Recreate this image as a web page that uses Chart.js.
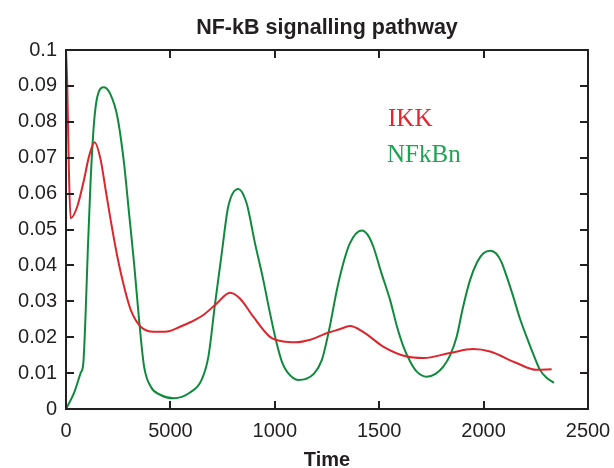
<!DOCTYPE html>
<html>
<head>
<meta charset="utf-8">
<script src="https://cdn.jsdelivr.net/npm/chart.js@4.4.1/dist/chart.umd.min.js"></script>
<style>
  html, body { margin: 0; padding: 0; background: #fff; }
  #wrap { width: 614px; height: 468px; }
</style>
</head>
<body>
<div id="wrap"><canvas id="chart" width="614" height="468"></canvas></div>
<script>
// IKK curve (time, value)
const ikkTime = [0, 6, 14, 22, 54, 86, 110, 137, 166, 190, 214, 246, 278, 310, 358, 421, 485, 546, 600, 658, 722, 785, 833, 897, 977, 1040, 1100, 1170, 1248, 1310, 1360, 1423, 1519, 1632, 1711, 1839, 1950, 2031, 2158, 2254, 2326];
const ikkValues = [0.1, 0.09, 0.066, 0.0531, 0.0564, 0.0638, 0.0703, 0.0743, 0.0694, 0.061, 0.0526, 0.0424, 0.0341, 0.0276, 0.0229, 0.0215, 0.0216, 0.0229, 0.0243, 0.0262, 0.0294, 0.0324, 0.0308, 0.0257, 0.0201, 0.0188, 0.0186, 0.0193, 0.0211, 0.0222, 0.0231, 0.0215, 0.0174, 0.0146, 0.0142, 0.0156, 0.0167, 0.0160, 0.0128, 0.0109, 0.0111];

// NFkBn curve
const nfkbTime = [0, 38, 70, 83, 94, 105, 118, 134, 150, 182, 214, 246, 278, 302, 326, 350, 374, 406, 453, 514, 594, 650, 682, 714, 746, 777, 825, 865, 905, 945, 977, 1009, 1035, 1060, 1113, 1150, 1185, 1225, 1260, 1297, 1330, 1360, 1416, 1445, 1472, 1510, 1552, 1585, 1616, 1650, 1680, 1727, 1770, 1807, 1840, 1871, 1900, 1935, 1970, 1999, 2034, 2060, 2085, 2110, 2142, 2175, 2206, 2240, 2270, 2300, 2337];
const nfkbValues = [0, 0.0044, 0.010, 0.0128, 0.0267, 0.0452, 0.0638, 0.0796, 0.0870, 0.0896, 0.0875, 0.0814, 0.0684, 0.0545, 0.0406, 0.0248, 0.0118, 0.0062, 0.0039, 0.0030, 0.0046, 0.0082, 0.0146, 0.0294, 0.0434, 0.0564, 0.0613, 0.0573, 0.0462, 0.0359, 0.0267, 0.0183, 0.013, 0.0103, 0.0081, 0.0084, 0.0097, 0.0136, 0.022, 0.0331, 0.041, 0.0462, 0.0497, 0.0485, 0.0452, 0.038, 0.0304, 0.023, 0.0174, 0.013, 0.0104, 0.0090, 0.0098, 0.0118, 0.015, 0.0201, 0.028, 0.0359, 0.041, 0.0434, 0.0441, 0.0433, 0.0410, 0.0370, 0.0313, 0.025, 0.0201, 0.015, 0.0109, 0.0088, 0.0073];

const xTickValues = [0, 500, 1000, 1500, 2000, 2500];
const xTickLabels = ['0', '5000', '1000', '1500', '2000', '2500'];
const yTickValues = [0, 0.01, 0.02, 0.03, 0.04, 0.05, 0.06, 0.07, 0.08, 0.09, 0.1];
const yTickLabels = ['0', '0.01', '0.02', '0.03', '0.04', '0.05', '0.06', '0.07', '0.08', '0.09', '0.1'];

const seriesNames = ['IKK', 'NFkBn'];
const chartTitle = 'NF-kB signalling pathway';

const toPoints = (xs, ys) => xs.map((x, i) => ({ x: x, y: ys[i] }));

// box + inward ticks + title over the plot + in-plot labels
const framePlugin = {
  id: 'frame',
  afterDraw(chart) {
    const ctx = chart.ctx;
    const a = chart.chartArea;
    const xs = chart.scales.x;
    const ys = chart.scales.y;
    const len = 8;
    ctx.save();
    ctx.strokeStyle = '#231f20';
    ctx.lineWidth = 2;
    ctx.strokeRect(a.left, a.top, a.right - a.left, a.bottom - a.top);
    ctx.beginPath();
    xTickValues.slice(1, -1).forEach(v => {
      const px = Math.round(xs.getPixelForValue(v));
      ctx.moveTo(px, a.bottom); ctx.lineTo(px, a.bottom - len);
      ctx.moveTo(px, a.top); ctx.lineTo(px, a.top + len);
    });
    yTickValues.slice(1, -1).forEach(v => {
      const py = Math.round(ys.getPixelForValue(v));
      ctx.moveTo(a.left, py); ctx.lineTo(a.left + len, py);
      ctx.moveTo(a.right, py); ctx.lineTo(a.right - len, py);
    });
    ctx.stroke();

    ctx.fillStyle = '#231f20';
    ctx.font = 'bold 21.5px "Liberation Sans", Arial, sans-serif';
    ctx.textAlign = 'center';
    ctx.textBaseline = 'middle';
    ctx.fillText(chartTitle, (a.left + a.right) / 2, 28);

    ctx.font = '25px "Liberation Serif", "DejaVu Serif", serif';
    ctx.textAlign = 'left';
    ctx.textBaseline = 'alphabetic';
    ctx.fillStyle = '#e3262e';
    ctx.fillText(seriesNames[0], 388, 126);
    ctx.fillStyle = '#1ca552';
    ctx.fillText(seriesNames[1], 387, 162);
    ctx.restore();
  }
};

new Chart(document.getElementById('chart'), {
  type: 'line',
  data: {
    datasets: [
      {
        label: seriesNames[0],
        data: toPoints(ikkTime, ikkValues),
        borderColor: '#dc252c',
        borderWidth: 2,
        pointRadius: 0,
        cubicInterpolationMode: 'monotone',
        fill: false
      },
      {
        label: seriesNames[1],
        data: toPoints(nfkbTime, nfkbValues),
        borderColor: '#0f8a3d',
        borderWidth: 2,
        pointRadius: 0,
        cubicInterpolationMode: 'monotone',
        fill: false
      }
    ]
  },
  options: {
    responsive: false,
    animation: false,
    layout: { padding: { left: 0, right: 26, top: 50, bottom: 0 } },
    plugins: {
      legend: { display: false },
      tooltip: { enabled: false },
      title: { display: false }
    },
    scales: {
      x: {
        type: 'linear',
        min: 0,
        max: 2500,
        afterBuildTicks: s => { s.ticks = xTickValues.map(v => ({ value: v })); },
        afterFit: s => { s.height = 59; s.paddingLeft = 0; s.paddingRight = 0; },
        grid: { display: false, drawTicks: false },
        border: { display: false },
        ticks: {
          padding: 10,
          color: '#231f20',
          maxRotation: 0,
          font: { family: '"Liberation Sans", Arial, sans-serif', size: 20 },
          callback: (v) => xTickLabels[xTickValues.indexOf(v)]
        },
        title: {
          display: true,
          text: 'Time',
          color: '#231f20',
          font: { family: '"Liberation Sans", Arial, sans-serif', size: 20, weight: 'bold', lineHeight: 0.8 },
          padding: { top: 0, bottom: 0 }
        }
      },
      y: {
        type: 'linear',
        min: 0,
        max: 0.1,
        afterBuildTicks: s => { s.ticks = yTickValues.map(v => ({ value: v })); },
        afterFit: s => { s.width = 66; s.paddingTop = 0; s.paddingBottom = 0; },
        grid: { display: false, drawTicks: false },
        border: { display: false },
        ticks: {
          padding: 9,
          color: '#231f20',
          font: { family: '"Liberation Sans", Arial, sans-serif', size: 20 },
          callback: (v) => yTickLabels[yTickValues.indexOf(v)]
        }
      }
    }
  },
  plugins: [framePlugin]
});
</script>
</body>
</html>
